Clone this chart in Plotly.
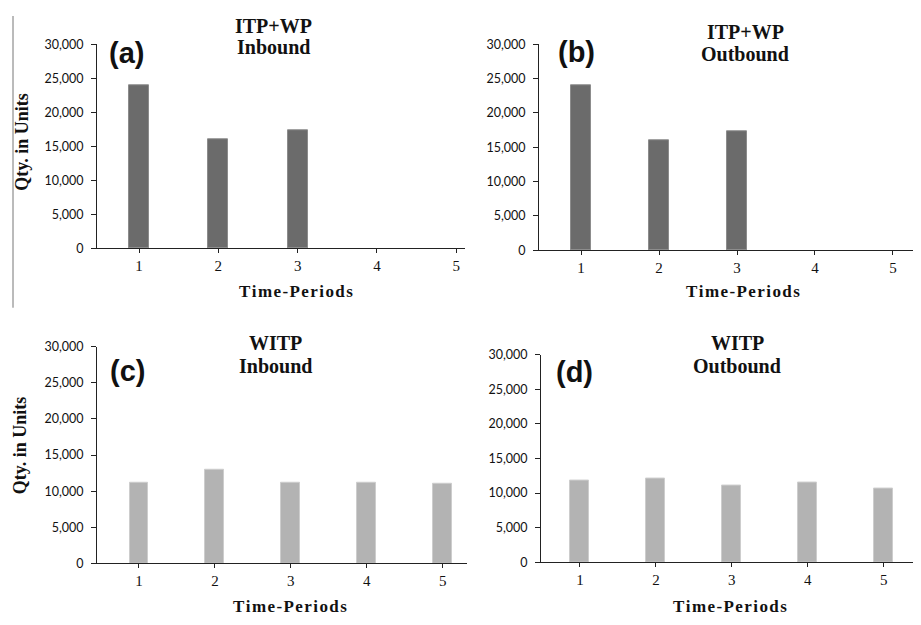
import plotly.graph_objects as go

# ---- data ----
periods = [1, 2, 3, 4, 5]
itp_inbound = [24000, 16000, 17300, 0, 0]
itp_outbound = [24000, 16000, 17300, 0, 0]
witp_inbound = [11200, 12900, 11200, 11200, 11000]
witp_outbound = [11800, 12100, 11100, 11550, 10600]
y_tickvals = [0, 5000, 10000, 15000, 20000, 25000, 30000]
y_ticktext = ["0", "5,000", "10,000", "15,000", "20,000", "25,000", "30,000"]
panel_letters = ["(a)", "(b)", "(c)", "(d)"]
panel_titles = [["ITP+WP", "Inbound"], ["ITP+WP", "Outbound"],
                ["WITP", "Inbound"], ["WITP", "Outbound"]]
x_title = "Time-Periods"
y_title = "Qty. in Units"

# page body has an 8px default margin; work in window pixel coords
OFF = 8
W, H = 921 - OFF, 625 - OFF
def px(x, y):
    return (x - OFF) / W, 1 - (y - OFF) / H

DARK = "#6b6b6b"
LIGHT = "#b3b3b3"

fig = go.Figure()
series = [itp_inbound, itp_outbound, witp_inbound, witp_outbound]
colors = [DARK, DARK, LIGHT, LIGHT]
edges = ["#8c8c8c", "#8c8c8c", "#cdcdcd", "#cdcdcd"]
for i, (vals, c, e) in enumerate(zip(series, colors, edges)):
    ax = "" if i == 0 else str(i + 1)
    lw = [1 if v > 0 else 0 for v in vals]
    fig.add_trace(go.Bar(x=periods, y=vals, width=0.25,
                         marker=dict(color=c, line=dict(color=e, width=lw)),
                         xaxis="x" + ax, yaxis="y" + ax, showlegend=False))

# panel geometry (window pixels): x0, x1, ytop, ybottom, xrange
geo = [
    (97, 465, 37, 246, [0.47, 5.11]),
    (539, 921, 37, 248, [0.46, 5.36]),
    (97, 467, 347, 569, [0.447, 5.32]),
    (541, 921, 355, 568, [0.487, 5.49]),
]
layout = {}
for i, (x0, x1, yt, yb, xr) in enumerate(geo):
    ax = "" if i == 0 else str(i + 1)
    dx0, dy_top = px(x0, yt)
    dx1, dy_bot = px(x1, yb)
    layout["xaxis" + ax] = dict(
        domain=[max(0, dx0), min(1, dx1)], range=xr, anchor="y" + ax,
        tickvals=periods, ticks="outside", ticklen=4, tickcolor="#222",
        showline=True, linecolor="#222", linewidth=1.2, showgrid=False,
        zeroline=False, fixedrange=True,
        tickfont=dict(family="Liberation Serif", size=15, color="#111"))
    layout["yaxis" + ax] = dict(
        domain=[dy_bot, dy_top], range=[0, 30000], anchor="x" + ax,
        tickvals=y_tickvals, ticktext=y_ticktext, ticks="outside", ticklen=5,
        tickcolor="#222", showline=True, linecolor="#222", linewidth=1,
        showgrid=False, zeroline=False, ticklabelstandoff=5,
        tickfont=dict(family="Lato", size=12.5, color="#111"))

fig.update_layout(width=W, height=H, margin=dict(l=0, r=0, t=0, b=0),
                  plot_bgcolor="white", paper_bgcolor="white", bargap=0,
                  **layout)

serif_b = dict(family="Liberation Serif", color="#111")
sans_b = dict(family="Liberation Sans", color="#111")

title_pos = [(273, 18, 40), (745, 24, 47), (275, 343, 367), (737, 343, 367)]
letter_pos = [(126, 46), (576, 45), (127, 372), (574, 373)]
xtitle_pos = [(296, 290), (743, 290), (290, 613), (730, 613)]
ytitle_pos = [(22, 137), (20, 448)]

spaced = "\u200a".join(list(x_title))

for i in range(4):
    tx, ty1, ty2 = title_pos[i]
    for txt, ty in zip(panel_titles[i], (ty1, ty2)):
        x, y = px(tx, ty)
        fig.add_annotation(x=x, y=y, xref="paper", yref="paper",
                           text="<b>%s</b>" % txt, showarrow=False,
                           xanchor="center", yanchor="middle",
                           font=dict(size=20, **serif_b))
    lx, ly = letter_pos[i]
    x, y = px(lx, ly)
    fig.add_annotation(x=x, y=y, xref="paper", yref="paper",
                       text="<b>%s</b>" % panel_letters[i], showarrow=False,
                       xanchor="center", yanchor="middle",
                       font=dict(size=29, **sans_b))
    xx, xy = xtitle_pos[i]
    x, y = px(xx, xy)
    fig.add_annotation(x=x, y=y, xref="paper", yref="paper",
                       text="<b>%s</b>" % spaced, showarrow=False,
                       xanchor="center", yanchor="middle",
                       font=dict(size=17, **serif_b))

for (yx, yy) in ytitle_pos:
    x, y = px(yx, yy)
    fig.add_annotation(x=x, y=y, xref="paper", yref="paper",
                       text="<b>%s</b>" % y_title, showarrow=False,
                       textangle=-90, xanchor="center", yanchor="middle",
                       font=dict(size=18, **serif_b))

# thin vertical rule at left of the top row
x0, y0 = px(13, 8)
x1, y1 = px(13, 307)
fig.add_shape(type="line", xref="paper", yref="paper", x0=x0, x1=x1,
              y0=y0, y1=y1, line=dict(color="#777", width=1))

fig.write_html("out.html")
